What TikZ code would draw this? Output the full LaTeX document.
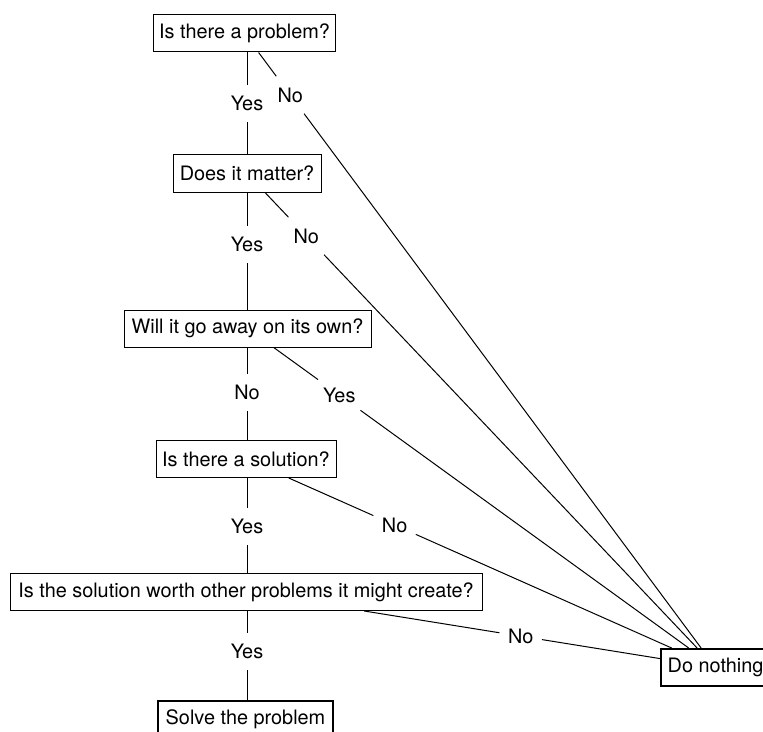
\documentclass[tikz,border=0pt]{standalone}
\usepackage{fontspec}
\setmainfont{TeX Gyre Heros}
\usetikzlibrary{calc}

\begin{document}
\begin{tikzpicture}[
    x=0.75pt, y=-0.75pt,
    every node/.style={color=black, font=\fontsize{14.9}{17}\selectfont},
    question/.style={draw, line width=0.75pt, inner xsep=4pt, inner ysep=0pt,
    minimum height=27.75pt},
    answer/.style={draw, line width=1.5pt, inner xsep=5pt, inner ysep=0pt,
    minimum height=27.75pt},
    edge label/.style={inner sep=0pt, minimum width=31.5pt, minimum height=27.75pt},
    edge line/.style={line width=0.75pt}
    ]
    \useasboundingbox (0,0) rectangle (763,731);
    % questions
    \node[question, minimum width=132.75pt] (problem) at (244.5,33.5)
        {Is there a problem?};
    \node[question, minimum width=111pt] (matter) at (247,173.5)
        {Does it matter?};
    \node[question, minimum width=185.25pt] (away) at (247.5,328.5)
        {Will it go away on its own?};
    \node[question, minimum width=135pt] (solution) at (246,459)
        {Is there a solution?};
    \node[question, minimum width=354pt] (worth) at (246,592)
        {Is the solution worth other problems it might create?};
    % outcomes
    \node[answer, anchor=west, minimum width=79.5pt] (nothing) at (660,667.5)
        {Do nothing};
    \node[answer, anchor=north, minimum width=131.25pt] (solve) at (245.5,700)
        {Solve the problem};
    % labels on the straight column
    \node[edge label] (yes1) at (247,103.5) {Yes};
    \node[edge label] (yes2) at (247,244.5) {Yes};
    \node[edge label] (no3) at (247,392.5) {No};
    \node[edge label] (yes4) at (247,526.5) {Yes};
    \node[edge label] (yes5) at (247,651.5) {Yes};
    % labels on the way to do nothing
    \node[edge label] (no1) at ($(problem)!0.097!(nothing)$) {No};
    \node[edge label] (no2) at ($(matter)!0.1265!(nothing)$) {No};
    \node[edge label] (yes3) at ($(away)!0.196!(nothing)$) {Yes};
    \node[edge label] (no4) at ($(solution)!0.3165!(nothing)$) {No};
    \node[edge label] (no5) at ($(worth)!0.585!(nothing)$) {No};
    % column of edges
    \draw[edge line] (yes1 |- problem.south) -- (yes1) -- (yes1 |- matter.north);
    \draw[edge line] (yes2 |- matter.south) -- (yes2) -- (yes2 |- away.north);
    \draw[edge line] (no3 |- away.south) -- (no3) -- (no3 |- solution.north);
    \draw[edge line] (yes4 |- solution.south) -- (yes4) -- (yes4 |- worth.north);
    \draw[edge line] (yes5 |- worth.south) -- (yes5) -- (yes5 |- solve.north);
    % fan into do nothing
    \draw[edge line] (problem) -- (no1) -- (nothing);
    \draw[edge line] (matter) -- (no2) -- (nothing);
    \draw[edge line] (away) -- (yes3) -- (nothing);
    \draw[edge line] (solution) -- (no4) -- (nothing);
    \draw[edge line] (worth) -- (no5) -- (nothing);
\end{tikzpicture}
\end{document}
